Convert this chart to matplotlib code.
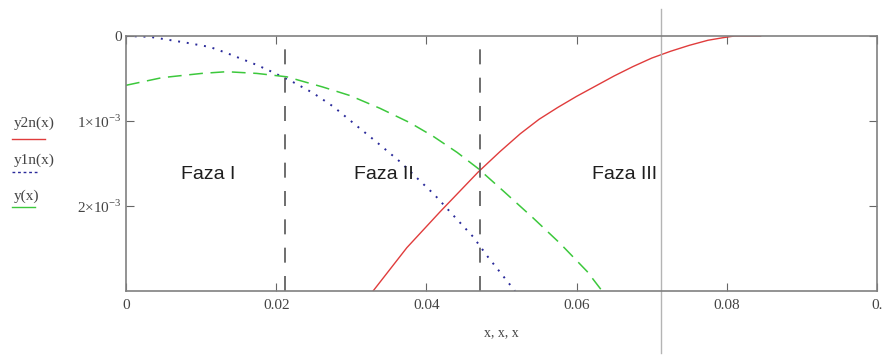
import numpy as np
import matplotlib
matplotlib.use("Agg")
import matplotlib.pyplot as plt
from matplotlib.lines import Line2D

plt.rcParams['mathtext.fontset'] = 'custom'
plt.rcParams['mathtext.rm'] = 'Liberation Serif'

# DATA (deflection, axis shown inverted: 0 at top)
x_y2n = [0.0329, 0.0374, 0.0418, 0.0469, 0.0498, 0.0525, 0.0550, 0.0575, 0.0600, 0.0625,
         0.0650, 0.0675, 0.0700, 0.0725, 0.0750, 0.0775, 0.0795, 0.0810, 0.0845]
y2n = [3.0e-3, 2.49e-3, 2.07e-3, 1.6e-3, 1.36e-3, 1.15e-3, 0.98e-3, 0.84e-3, 0.71e-3, 0.59e-3,
       0.47e-3, 0.36e-3, 0.26e-3, 0.18e-3, 0.11e-3, 0.05e-3, 0.02e-3, 0.0, 0.0]

x_y1n = [0.0, 0.0032, 0.0081, 0.0112, 0.0134, 0.0174, 0.0194, 0.0222, 0.0249, 0.0276,
         0.0309, 0.0334, 0.0365, 0.0411, 0.0441, 0.0462, 0.0482, 0.0518]
y1n = [0.0, 0.01e-3, 0.08e-3, 0.13e-3, 0.2e-3, 0.34e-3, 0.42e-3, 0.54e-3, 0.67e-3, 0.83e-3,
       1.07e-3, 1.25e-3, 1.48e-3, 1.87e-3, 2.16e-3, 2.36e-3, 2.6e-3, 3.0e-3]

x_y = [0.0, 0.0048, 0.0101, 0.0134, 0.0174, 0.0214, 0.0262, 0.0298, 0.0338, 0.0378,
       0.0409, 0.0441, 0.0469, 0.0502, 0.0542, 0.0578, 0.0614, 0.0634]
y = [0.58e-3, 0.49e-3, 0.44e-3, 0.42e-3, 0.44e-3, 0.48e-3, 0.6e-3, 0.7e-3, 0.85e-3, 1.02e-3,
     1.18e-3, 1.37e-3, 1.56e-3, 1.82e-3, 2.14e-3, 2.44e-3, 2.77e-3, 3.0e-3]

phase_bounds = [0.0212, 0.0471]
marker_x = 0.0712
phase_labels = ["Faza I", "Faza II", "Faza III"]
phase_label_x = [0.011, 0.0344, 0.0664]

x_ticks = [0, 0.02, 0.04, 0.06, 0.08, 0.1]
x_ticklabels = ["0", "0.02", "0.04", "0.06", "0.08", "0."]
y_ticks = [0, 1e-3, 2e-3]
y_ticklabels = ["0", r"1$\times$10$^{-3}$", r"2$\times$10$^{-3}$"]

fig = plt.figure(figsize=(8.82, 3.55), dpi=100)
ax = fig.add_axes([126 / 882, 1 - 291 / 355, 751 / 882, 255 / 355])

ax.plot(x_y2n, y2n, color='#e03c3c', lw=1.0)
ax.plot(x_y1n, y1n, color='#2a2a9a', lw=1.4, linestyle=(0, (1, 3.5)))
ax.plot(x_y, y, color='#3cc83c', lw=1.1, linestyle=(0, (9, 5)))

for xb in phase_bounds:
    ax.axvline(xb, color='#555555', lw=1.2, linestyle=(0, (9, 8)))

# grey marker line running past the frame
ax.axvline(marker_x, ymin=-0.245, ymax=1.105, color='#b4b4b4', lw=1.0, clip_on=False)

for lab, xl in zip(phase_labels, phase_label_x):
    ax.text(xl, 1.63e-3, lab, fontsize=14, family='Liberation Sans', color='#1e1e1e',
            ha='center', va='center')

ax.set_xlim(0, 0.1)
ax.set_ylim(3e-3, 0)
ax.set_xticks(x_ticks)
ax.set_xticklabels(x_ticklabels, family='Liberation Serif', fontsize=11, color='#444444')
ax.set_yticks(y_ticks)
ax.set_yticklabels(y_ticklabels, family='Liberation Serif', fontsize=11, color='#444444')
ax.tick_params(direction='in', length=6, color='#666666', top=True, right=True)
ax.tick_params(axis='y', pad=3)
ax.tick_params(axis='x', pad=6)
for sp in ax.spines.values():
    sp.set_color('#808080')
    sp.set_linewidth(1.2)

ax.set_xlabel("x, x, x", family='Liberation Serif', fontsize=10, color='#444444', labelpad=10)

# Mathcad-style legend at the left
leg_items = [("y2n(x)", '#e03c3c', '-', 123, 139, 45),
             ("y1n(x)", '#2a2a9a', (0, (2, 2)), 160, 172, 38),
             ("y(x)", '#3cc83c', '-', 196, 207, 35)]
for lab, col, ls, ty, ly, lx2 in leg_items:
    fig.text(14 / 882, 1 - ty / 355, lab, family='Liberation Serif', fontsize=11,
             color='#444444', ha='left', va='center')
    fig.add_artist(Line2D([12 / 882, lx2 / 882], [1 - ly / 355, 1 - ly / 355],
                          color=col, lw=1.0, linestyle=ls))

fig.savefig("out.png", dpi=100)
